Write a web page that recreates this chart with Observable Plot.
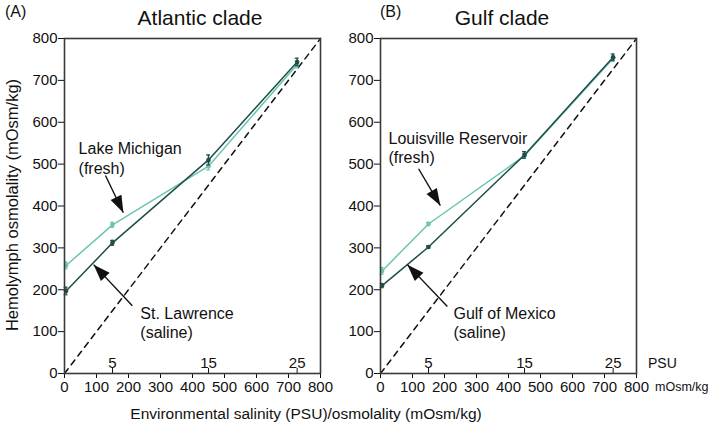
<!DOCTYPE html>
<html>
<head>
<meta charset="utf-8">
<script src="https://cdn.jsdelivr.net/npm/d3@7"></script>
<script src="https://cdn.jsdelivr.net/npm/@observablehq/plot@0.6"></script>
<style>
  html, body { margin: 0; padding: 0; background: #fff; }
  #wrap { position: relative; width: 709px; height: 425px; font-family: "Liberation Sans", Arial, sans-serif; color: #111; overflow: hidden; }
  .lbl { position: absolute; line-height: 1; white-space: nowrap; }
  .panel { position: absolute; top: 0; }
</style>
</head>
<body>
<div id="wrap"></div>
<script>
// ---------- data ----------
const xTicks = [0, 100, 200, 300, 400, 500, 600, 700, 800];
const yTicks = [0, 100, 200, 300, 400, 500, 600, 700, 800];
const psuLabels = ["5", "15", "25"];
const psuX = [150, 450, 727];

const envX = [5, 150, 450, 727];

// Atlantic clade
const atlFreshY = [258, 355, 495, 738];
const atlFreshErr = [8, 6, 9, 8];
const atlSalineY = [197, 312, 510, 744];
const atlSalineErr = [9, 6, 12, 9];

// Gulf clade
const gulfFreshY = [245, 357, 520, 752];
const gulfFreshErr = [8, 4, 6, 6];
const gulfSalineY = [210, 302, 522, 755];
const gulfSalineErr = [5, 3, 8, 8];

const diag = [0, 800];

// annotations: text anchor (top-left) and arrow (from -> to), in data units
const atlAnnot = [
  {text: "Lake Michigan\n(fresh)", x: 44, y: 556, ax1: 128, ay1: 473, ax2: 184, ay2: 384},
  {text: "St. Lawrence\n(saline)", x: 237, y: 163, ax1: 212, ay1: 162, ax2: 91, ay2: 260}
];
const gulfAnnot = [
  {text: "Louisville Reservoir\n(fresh)", x: 25, y: 581, ax1: 119, ay1: 489, ax2: 187, ay2: 401},
  {text: "Gulf of Mexico\n(saline)", x: 228, y: 163, ax1: 209, ay1: 160, ax2: 84, ay2: 260}
];

const colFresh = "#6cc5b1";
const colSaline = "#1e4d4a";
const FONT = "'Liberation Sans', Arial, sans-serif";

const W = 340, H = 400, ML = 64, MR = 20, MT = 38, MB = 27;
const kx = (W - ML - MR) / 800, ky = (H - MT - MB) / 800;

// filled arrowhead symbol: tip at origin, pointing up
const arrowHead = {
  draw(ctx) {
    ctx.moveTo(0, 0);
    ctx.lineTo(-6, 17);
    ctx.lineTo(6, 17);
    ctx.closePath();
  }
};

function series(ys, errs) {
  return envX.map((x, i) => ({x, y: ys[i], e: errs[i]}));
}

function panel(fresh, saline, annots) {
  const seriesMarks = (d, col) => [
    Plot.line(d, {x: "x", y: "y", stroke: col, strokeWidth: 1.5}),
    Plot.ruleX(d, {x: "x", y1: v => v.y - v.e, y2: v => v.y + v.e, stroke: col, strokeWidth: 1.5}),
    Plot.ruleY(d, {y: v => v.y - v.e, x1: v => v.x - 6, x2: v => v.x + 6, stroke: col, strokeWidth: 1.2}),
    Plot.ruleY(d, {y: v => v.y + v.e, x1: v => v.x - 6, x2: v => v.x + 6, stroke: col, strokeWidth: 1.2}),
    Plot.dot(d, {x: "x", y: "y", r: 2.3, fill: col})
  ];
  const psu = psuX.map((x, i) => ({x, t: psuLabels[i]}));
  const rot = d => Math.atan2((d.ax2 - d.ax1) * kx, (d.ay2 - d.ay1) * ky) * 180 / Math.PI;
  return Plot.plot({
    width: W, height: H,
    marginLeft: ML, marginRight: MR, marginTop: MT, marginBottom: MB,
    style: {fontFamily: FONT, fontSize: "15px", color: "#111", background: "transparent", overflow: "visible"},
    x: {domain: [0, 800], ticks: xTicks, tickSize: 5, tickPadding: 3, label: null, tickFormat: d => String(d)},
    y: {domain: [0, 800], ticks: yTicks, tickSize: 6, tickPadding: 1, label: null, tickFormat: d => String(d)},
    marks: [
      Plot.line(diag.map(v => ({x: v, y: v})), {x: "x", y: "y", stroke: "#111", strokeWidth: 1.5, strokeDasharray: "6,5"}),
      ...seriesMarks(fresh, colFresh),
      ...seriesMarks(saline, colSaline),
      Plot.ruleX(psu, {x: "x", y1: 0, y2: 12, stroke: "#111", strokeWidth: 1}),
      Plot.text(psu, {x: "x", y: 24, text: "t", fontSize: 15, fill: "#111"}),
      Plot.link(annots, {x1: "ax1", y1: "ay1", x2: "ax2", y2: "ay2", stroke: "#111", strokeWidth: 1.4}),
      Plot.dot(annots, {x: "ax2", y: "ay2", symbol: arrowHead, rotate: rot, fill: "#111", stroke: "none", r: 5}),
      Plot.text(annots, {x: "x", y: "y", text: "text", textAnchor: "start", lineAnchor: "top", lineHeight: 1.2, fontSize: 16, fill: "#111"}),
      Plot.frame({stroke: "#3a3a3a", strokeWidth: 1.6})
    ]
  });
}

const wrap = document.getElementById("wrap");
const a = panel(series(atlFreshY, atlFreshErr), series(atlSalineY, atlSalineErr), atlAnnot);
a.classList.add("panel"); a.style.left = "0px";
const b = panel(series(gulfFreshY, gulfFreshErr), series(gulfSalineY, gulfSalineErr), gulfAnnot);
b.classList.add("panel"); b.style.left = "316px";
wrap.appendChild(a);
wrap.appendChild(b);

function label(text, opts) {
  const d = document.createElement("div");
  d.className = "lbl";
  d.textContent = text;
  Object.assign(d.style, opts);
  wrap.appendChild(d);
  return d;
}
label("(A)", {left: "5px", top: "3.5px", fontSize: "16px"});
label("(B)", {left: "380px", top: "3.5px", fontSize: "16px"});
label("Atlantic clade", {left: "200px", top: "7px", fontSize: "21px", transform: "translateX(-50%)"});
label("Gulf clade", {left: "502px", top: "7px", fontSize: "21px", transform: "translateX(-50%)"});
label("Hemolymph osmolality (mOsm/kg)", {left: "12px", top: "205px", fontSize: "16.5px", transform: "translate(-50%,-50%) rotate(-90deg)"});
label("Environmental salinity (PSU)/osmolality (mOsm/kg)", {left: "306px", top: "405.5px", fontSize: "15.5px", transform: "translateX(-50%)"});
label("PSU", {left: "648px", top: "356px", fontSize: "14px"});
label("mOsm/kg", {left: "655px", top: "380.5px", fontSize: "12.5px"});
</script>
</body>
</html>
